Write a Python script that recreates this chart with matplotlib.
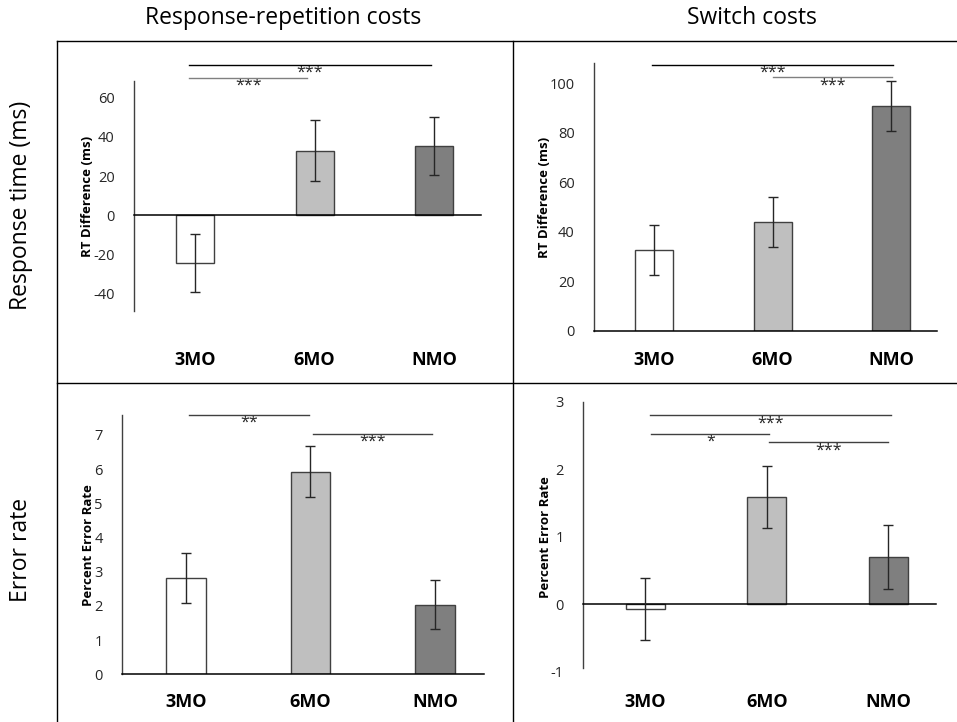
import matplotlib
matplotlib.use("Agg")
import matplotlib.pyplot as plt
from matplotlib.lines import Line2D
from matplotlib.transforms import blended_transform_factory, offset_copy

plt.rcParams['font.family'] = ['Open Sans', 'DejaVu Sans']

groups = ["3MO", "6MO", "NMO"]
bar_colors = ["#ffffff", "#bfbfbf", "#7f7f7f"]

# response-repetition costs, response time
rr_rt = [-24.6, 33.0, 35.4]
rr_rt_err = [15.0, 15.5, 15.0]
# switch costs, response time
sw_rt = [32.6, 44.0, 90.7]
sw_rt_err = [10.0, 10.0, 10.0]
# response-repetition costs, error rate
rr_er = [2.82, 5.92, 2.04]
rr_er_err = [0.74, 0.74, 0.71]
# switch costs, error rate
sw_er = [-0.07, 1.59, 0.70]
sw_er_err = [0.46, 0.46, 0.47]

# significance brackets: (from, to, height, label, colour)
rr_rt_sig = [(-0.05, 1.97, 76.9, "***", "#000000"), (-0.05, 0.94, 70.4, "***", "#808080")]
sw_rt_sig = [(-0.02, 2.02, 107.4, "***", "#000000"), (1.0, 2.01, 102.3, "***", "#808080")]
rr_er_sig = [(0.03, 0.99, 7.58, "**", "#404040"), (1.02, 1.97, 7.03, "***", "#404040")]
sw_er_sig = [(0.04, 2.02, 2.80, "***", "#404040"), (0.05, 1.02, 2.52, "*", "#404040"),
             (1.02, 2.0, 2.40, "***", "#404040")]

W, H = 957, 722
fig = plt.figure(figsize=(W / 100, H / 100), dpi=100)


def px_axes(left, top, right, bottom):
    return fig.add_axes([left / W, 1 - bottom / H, (right - left) / W, (bottom - top) / H])


def panel(ax, vals, errs, ylim, yticks, ylabel, sig, label_y, spine_low=None):
    x = range(len(groups))
    ax.bar(x, vals, width=0.32, color=bar_colors, edgecolor="#404040", linewidth=1.0, zorder=2)
    ax.errorbar(x, vals, yerr=errs, fmt="none", ecolor="#262626", elinewidth=1.0,
                capsize=3.5, capthick=1.0, zorder=3)
    ax.set_xlim(-0.51, 2.39)
    ax.set_ylim(*ylim)
    ax.set_yticks(yticks)
    ax.set_yticklabels([str(t) for t in yticks], fontsize=10.5, color="#262626")
    ax.set_xticks([])
    ax.tick_params(axis="y", length=0, pad=14)
    for s in ["top", "right"]:
        ax.spines[s].set_visible(False)
    ax.spines["left"].set_color("#404040")
    ax.spines["left"].set_linewidth(1.0)
    if spine_low is not None:
        ax.spines["left"].set_bounds(spine_low, ylim[1])
    ax.spines["bottom"].set_position(("data", 0))
    ax.spines["bottom"].set_color("#000000")
    ax.spines["bottom"].set_linewidth(1.1)
    ax.set_ylabel(ylabel, fontsize=9.5, fontweight="bold", labelpad=-1)
    ax.patch.set_alpha(0)

    for x1, x2, y, lab, col in sig:
        ax.plot([x1, x2], [y, y], color=col, lw=1.0, clip_on=False, zorder=4)
        tr = offset_copy(ax.transData, fig=fig, x=0, y=0, units="points")
        ax.text((x1 + x2) / 2, y, lab, transform=tr, ha="center", va="top",
                fontsize=11.5, color="#262626")

    tr = blended_transform_factory(ax.transData, fig.transFigure)
    for i, g in enumerate(groups):
        ax.text(i, 1 - label_y / H, g, transform=tr, ha="center", va="center",
                fontsize=13, fontweight="bold", color="#000000")


ax1 = px_axes(134, 81, 481, 311)
panel(ax1, rr_rt, rr_rt_err, (-49.2, 68.7), [-40, -20, 0, 20, 40, 60],
      "RT Difference (ms)", rr_rt_sig, 360)

ax2 = px_axes(594, 63.3, 937, 331)
panel(ax2, sw_rt, sw_rt_err, (0, 108), [0, 20, 40, 60, 80, 100],
      "RT Difference (ms)", sw_rt_sig, 360)

ax3 = px_axes(122, 415, 484, 674.3)
panel(ax3, rr_er, rr_er_err, (0, 7.58), [0, 1, 2, 3, 4, 5, 6, 7],
      "Percent Error Rate", rr_er_sig, 702)

ax4 = px_axes(583.3, 401.7, 935.7, 671.7)
panel(ax4, sw_er, sw_er_err, (-1.0, 3.0), [-1, 0, 1, 2, 3],
      "Percent Error Rate", sw_er_sig, 702, spine_low=-0.94)

# table borders
def fig_line(x1, y1, x2, y2):
    fig.add_artist(Line2D([x1 / W, x2 / W], [1 - y1 / H, 1 - y2 / H],
                          color="#000000", lw=1.0))

fig_line(57, 41, 957, 41)
fig_line(57, 383, 957, 383)
fig_line(57, 41, 57, 722)
fig_line(513, 41, 513, 722)

# column and row headers
fig.text(283 / W, 1 - 18 / H, "Response-repetition costs", ha="center", va="center", fontsize=16.5)
fig.text(752 / W, 1 - 18 / H, "Switch costs", ha="center", va="center", fontsize=16.5)
fig.text(21 / W, 1 - 205 / H, "Response time (ms)", ha="center", va="center",
         rotation=90, fontsize=16.5)
fig.text(21 / W, 1 - 550 / H, "Error rate", ha="center", va="center",
         rotation=90, fontsize=16.5)

fig.savefig("out.png", dpi=100)
